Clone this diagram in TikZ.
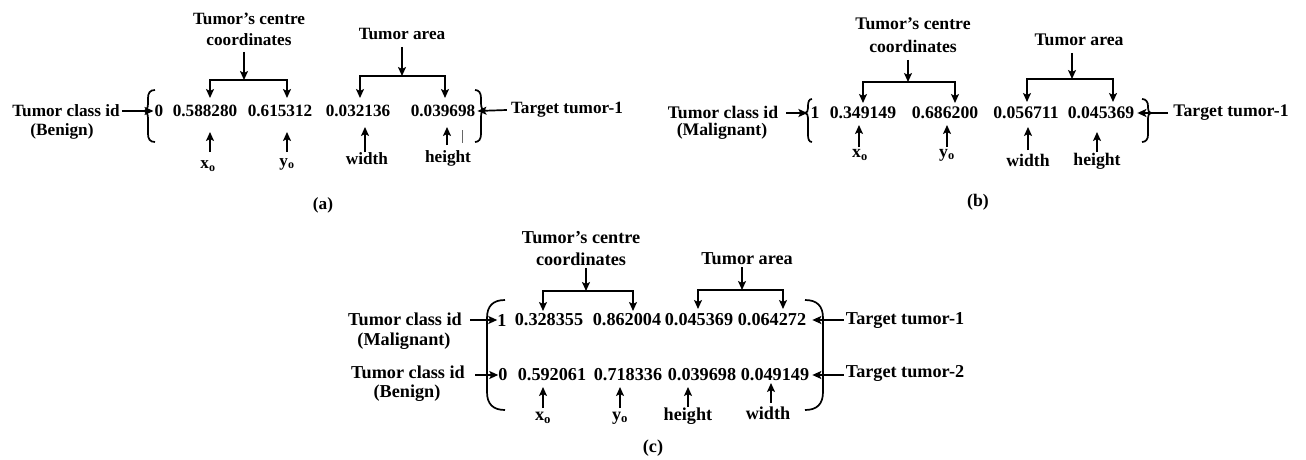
\documentclass[tikz,border=0pt]{standalone}
\usepackage{fontspec}
\setmainfont{Liberation Serif}
\usetikzlibrary{arrows.meta}
\begin{document}
\begin{tikzpicture}[x=1pt,y=-1pt,
 ta/.style={font=\fontsize{17.2}{21}\selectfont\bfseries, inner sep=0pt, align=center},
 tb/.style={font=\fontsize{17.7}{23}\selectfont\bfseries, inner sep=0pt, align=center},
 tc/.style={font=\fontsize{18.2}{22}\selectfont\bfseries, inner sep=0pt, align=center},
 arr/.style={-{Stealth[length=9pt,width=8pt,inset=2pt]}, line width=1.7pt},
 dbl/.style={{Stealth[length=9pt,width=8pt,inset=2pt]}-{Stealth[length=9pt,width=8pt,inset=2pt]}, line width=1.7pt},
 ln/.style={line width=1.7pt}]
\useasboundingbox (0,0) rectangle (1306,460);

% ---------------- (a) ----------------
\node[ta] (cc1) at (249,29.5) {Tumor’s centre\\coordinates};
\node[ta] (ar1) at (402,34) {Tumor area};
\node[ta] (cls1) at (66,111) {Tumor class id};
\node[ta] (ben1) at (62,131) {(Benign)};
\node[ta] (n0) at (159,111) {0};
\node[ta] (v11) at (205,111) {0.588280};
\node[ta] (v12) at (280,111) {0.615312};
\node[ta] (v13) at (358,111) {0.032136};
\node[ta] (v14) at (443,111) {0.039698};
\node[ta] (tg1) at (567,110) {Target tumor-1};
\node[ta] (xa) at (208,166) {x\textsubscript{o}};
\node[ta] (ya) at (287,164) {y\textsubscript{o}};
\node[ta] (wa) at (367,159) {width};
\node[ta] (ha) at (448,158) {height};
\node[ta] (capa) at (323,205) {(a)};

\draw[arr] (244,52) -- (244,80);
\draw[dbl] (210,98) |- (244,80) -| (287,98);
\draw[arr] (402,47) -- (402,76);
\draw[dbl] (360,98) |- (402,76) -| (445,98);
\draw[arr] ([xshift=2pt]cls1.east) -- ([xshift=-1pt]n0.west);
\draw[arr] ([xshift=-4pt]tg1.west) -- ([xshift=2pt]v14.east);
\draw[ln] (155,90) .. controls (150,90) and (148,93) .. (148,98) -- (148,104)
  .. controls (148,108) and (146,111) .. (144,111)
  .. controls (146,111) and (148,114) .. (148,118) -- (148,134)
  .. controls (148,139) and (150,142) .. (155,142);
\draw[ln] (475,90) .. controls (479,90) and (481,93) .. (481,98) -- (481,103)
  .. controls (481,107) and (482,110) .. (484,110)
  .. controls (482,110) and (481,113) .. (481,117) -- (481,134)
  .. controls (481,139) and (479,142) .. (475,142);
\draw[arr] (210,152) -- (210,132);
\draw[arr] (287,152) -- (287,132);
\draw[arr] (365,152) -- (365,127);
\draw[arr] (447,145) -- (447,127);
\draw[line width=0.6pt, black!60] (462,130) -- (462,143);

% ---------------- (b) ----------------
\node[tb] (cc2) at (913,35.5) {Tumor’s centre\\coordinates};
\node[tb] (ar2) at (1079,40) {Tumor area};
\node[tb] (cls2) at (723,112) {Tumor class id};
\node[tb] (mal2) at (722,131) {(Malignant)};
\node[tb] (n1) at (815,113) {1};
\node[tb] (v21) at (863,113) {0.349149};
\node[tb] (v22) at (945,113) {0.686200};
\node[tb] (v23) at (1026,113) {0.056711};
\node[tb] (v24) at (1101,113) {0.045369};
\node[tb] (tg2) at (1231,113) {Target tumor-1};
\node[tb] (xb) at (860,155) {x\textsubscript{o}};
\node[tb] (yb) at (947,155) {y\textsubscript{o}};
\node[tb] (wb) at (1028,160) {width};
\node[tb] (hb) at (1097,161) {height};
\node[tb] (capb) at (978,202) {(b)};

\draw[arr] (908,60) -- (908,82);
\draw[dbl] (863,103) |- (908,82) -| (955,103);
\draw[arr] (1072,53) -- (1072,79);
\draw[dbl] (1027,102) |- (1072,79) -| (1113,102);
\draw[arr] ([xshift=8pt]cls2.east |- n1.west) -- ([xshift=-3pt]n1.west);
\draw[arr] ([xshift=-5pt]tg2.west) -- ([xshift=3pt]v24.east);
\draw[ln] (812,99) .. controls (809,99) and (808,102) .. (808,106) -- (808,108)
  .. controls (808,111) and (807,113) .. (805,113)
  .. controls (807,113) and (808,115) .. (808,118) -- (808,135)
  .. controls (808,139) and (809,142) .. (812,142);
\draw[ln] (1142,99) .. controls (1146,99) and (1148,102) .. (1148,106) -- (1148,108)
  .. controls (1148,111) and (1149,113) .. (1151,113)
  .. controls (1149,113) and (1148,115) .. (1148,118) -- (1148,135)
  .. controls (1148,139) and (1146,142) .. (1142,142);
\draw[arr] (859,147) -- (859,125);
\draw[arr] (947,147) -- (947,125);
\draw[arr] (1028,150) -- (1028,127);
\draw[arr] (1097,152) -- (1097,132);

% ---------------- (c) ----------------
\node[tc] (cc3) at (581,249) {Tumor’s centre\\coordinates};
\node[tc] (ar3) at (747,259) {Tumor area};
\node[tc] (cls3a) at (405,319) {Tumor class id};
\node[tc] (mal3) at (404,341) {(Malignant)};
\node[tc] (cls3b) at (408,372) {Tumor class id};
\node[tc] (ben3) at (407,393) {(Benign)};
\node[tc] (n2) at (502,320) {1};
\node[tc] (v31) at (549,320) {0.328355};
\node[tc] (v32) at (627,320) {0.862004};
\node[tc] (v33) at (699,320) {0.045369};
\node[tc] (v34) at (772,320) {0.064272};
\node[tc] (n3) at (503,375) {0};
\node[tc] (v41) at (552,375) {0.592061};
\node[tc] (v42) at (628,375) {0.718336};
\node[tc] (v43) at (702,375) {0.039698};
\node[tc] (v44) at (775,375) {0.049149};
\node[tc] (tg3a) at (905,320) {Target tumor-1};
\node[tc] (tg3b) at (905,373) {Target tumor-2};
\node[tc] (xc) at (543,418) {x\textsubscript{o}};
\node[tc] (yc) at (620,418) {y\textsubscript{o}};
\node[tc] (hc) at (688,416) {height};
\node[tc] (wc) at (768,413) {width};
\node[tc] (capc) at (653,448) {(c)};

\draw[arr] (586,268) -- (586,291);
\draw[dbl] (543,311) |- (586,291) -| (633,311);
\draw[arr] (742,267) -- (742,290);
\draw[dbl] (698,309) |- (742,290) -| (783,309);
\draw[arr] ([xshift=8pt]cls3a.east |- n2.west) -- (n2.west);
\draw[arr] ([xshift=10pt]cls3b.east |- n3.west) -- (n3.west);
\draw[arr] ([xshift=-2pt]tg3a.west) -- ([xshift=6pt]v34.east);
\draw[arr] ([xshift=-2pt]tg3b.west |- v44.east) -- ([xshift=3pt]v44.east);
\draw[ln] (505,300) .. controls (493,300) and (487,306) .. (487,318) -- (487,392)
  .. controls (487,404) and (493,410) .. (505,410);
\draw[ln] (805,300) .. controls (817,300) and (823,306) .. (823,318) -- (823,392)
  .. controls (823,404) and (817,410) .. (805,410);
\draw[arr] (543,408) -- (543,387);
\draw[arr] (620,408) -- (620,387);
\draw[arr] (688,407) -- (688,387);
\draw[arr] (771,403) -- (771,383);
\end{tikzpicture}
\end{document}
